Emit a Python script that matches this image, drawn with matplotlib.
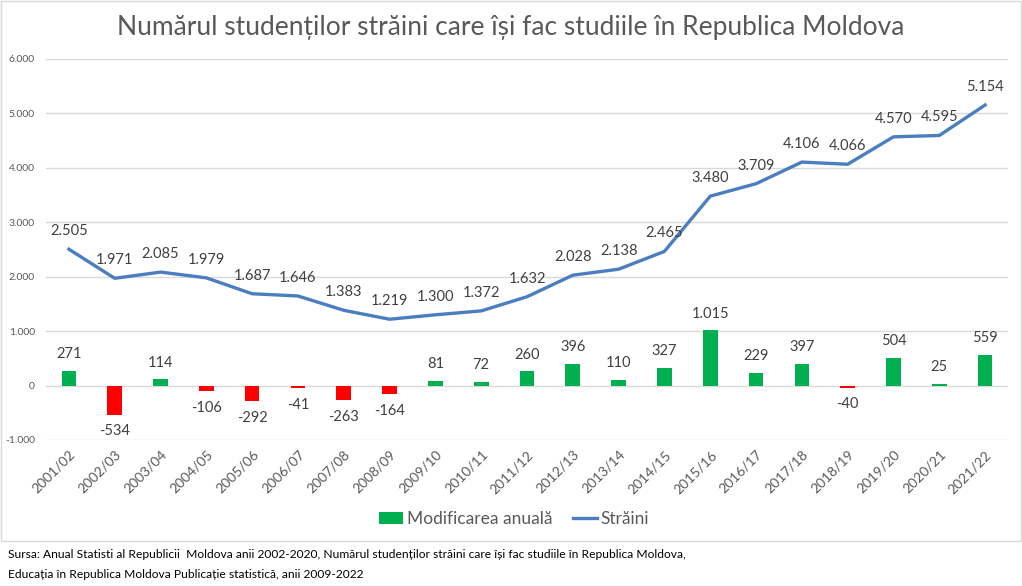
import matplotlib
matplotlib.use("Agg")
import matplotlib.pyplot as plt
from matplotlib.patches import Rectangle, Patch
from matplotlib.lines import Line2D
import matplotlib.ticker as mticker

plt.rcParams['font.family'] = ['Lato', 'DejaVu Sans']

years = ["2001/02", "2002/03", "2003/04", "2004/05", "2005/06", "2006/07", "2007/08",
         "2008/09", "2009/10", "2010/11", "2011/12", "2012/13", "2013/14", "2014/15",
         "2015/16", "2016/17", "2017/18", "2018/19", "2019/20", "2020/21", "2021/22"]
straini = [2505, 1971, 2085, 1979, 1687, 1646, 1383, 1219, 1300, 1372, 1632, 2028,
           2138, 2465, 3480, 3709, 4106, 4066, 4570, 4595, 5154]
modificare = [271, -534, 114, -106, -292, -41, -263, -164, 81, 72, 260, 396, 110,
              327, 1015, 229, 397, -40, 504, 25, 559]
yticks = [-1000, 0, 1000, 2000, 3000, 4000, 5000, 6000]

W, H = 1022, 586
fig = plt.figure(figsize=(W / 100, H / 100), dpi=100)

# chart border
fig.patches.append(Rectangle((1 / W, 1 - 541 / H), 1020 / W, 540 / H, transform=fig.transFigure,
                             fill=False, edgecolor='#d9d9d9', linewidth=1))

ax = fig.add_axes([46 / W, 1 - 440 / H, (1008 - 46) / W, (440 - 59) / H])

def fmt(v):
    return f"{v:,}".replace(",", ".")

x = list(range(len(years)))
green = '#00B050'
red = '#FF0000'
bar_colors = [green if v >= 0 else red for v in modificare]
ax.bar(x, modificare, width=0.32, color=bar_colors, zorder=2)
ax.plot(x, straini, color='#4A7EC0', linewidth=2.4, zorder=3)

txt_color = '#404040'
for xi, v in zip(x, straini):
    ax.annotate(fmt(v), (xi, v), xytext=(0, 8), textcoords='offset points',
                ha='center', va='bottom', fontsize=10.5, color=txt_color)
for xi, v in zip(x, modificare):
    if v >= 0:
        ax.annotate(fmt(v), (xi, v), xytext=(0, 7), textcoords='offset points',
                    ha='center', va='bottom', fontsize=10.5, color=txt_color)
    else:
        ax.annotate(fmt(v), (xi, v), xytext=(0, -7), textcoords='offset points',
                    ha='center', va='top', fontsize=10.5, color=txt_color)

ax.set_xlim(-0.5, len(years) - 0.5)
ax.set_ylim(-1000, 6000)
ax.set_yticks(yticks)
ax.yaxis.set_major_formatter(mticker.FuncFormatter(lambda v, p: fmt(int(v))))
ax.set_xticks(x)
ax.set_xticklabels(years, rotation=45, ha='right', rotation_mode='anchor')
ax.tick_params(axis='y', length=0, labelsize=7.5, colors='#595959', pad=8)
ax.tick_params(axis='x', length=0, labelsize=10, colors='#595959', pad=6)
ax.grid(axis='y', color='#d9d9d9', linewidth=1, zorder=0)
ax.set_axisbelow(True)
for s in ax.spines.values():
    s.set_visible(False)

fig.text(0.5, 1 - 28 / H, "Numărul studenților străini care își fac studiile în Republica Moldova",
         ha='center', va='center', fontsize=19, color='#595959')

handles = [Patch(facecolor=green, edgecolor='none'),
           Line2D([0], [0], color='#4A7EC0', linewidth=2.4)]
fig.legend(handles, ["Modificarea anuală", "Străini"], loc='center',
           bbox_to_anchor=(514 / W, 1 - 519 / H), ncol=2, frameon=False,
           fontsize=12.5, labelcolor='#595959', handlelength=1.4, handletextpad=0.2,
           columnspacing=1.2)

fig.text(8 / W, 1 - 555 / H,
         "Sursa: Anual Statisti al Republicii  Moldova anii 2002-2020, Numărul studenților străini care își fac studiile în Republica Moldova,",
         ha='left', va='center', fontsize=8.65, color='#000000')
fig.text(8 / W, 1 - 575 / H,
         "Educația în Republica Moldova Publicație statistică, anii 2009-2022",
         ha='left', va='center', fontsize=8.65, color='#000000')

fig.savefig("out.png", dpi=100, facecolor='white')
